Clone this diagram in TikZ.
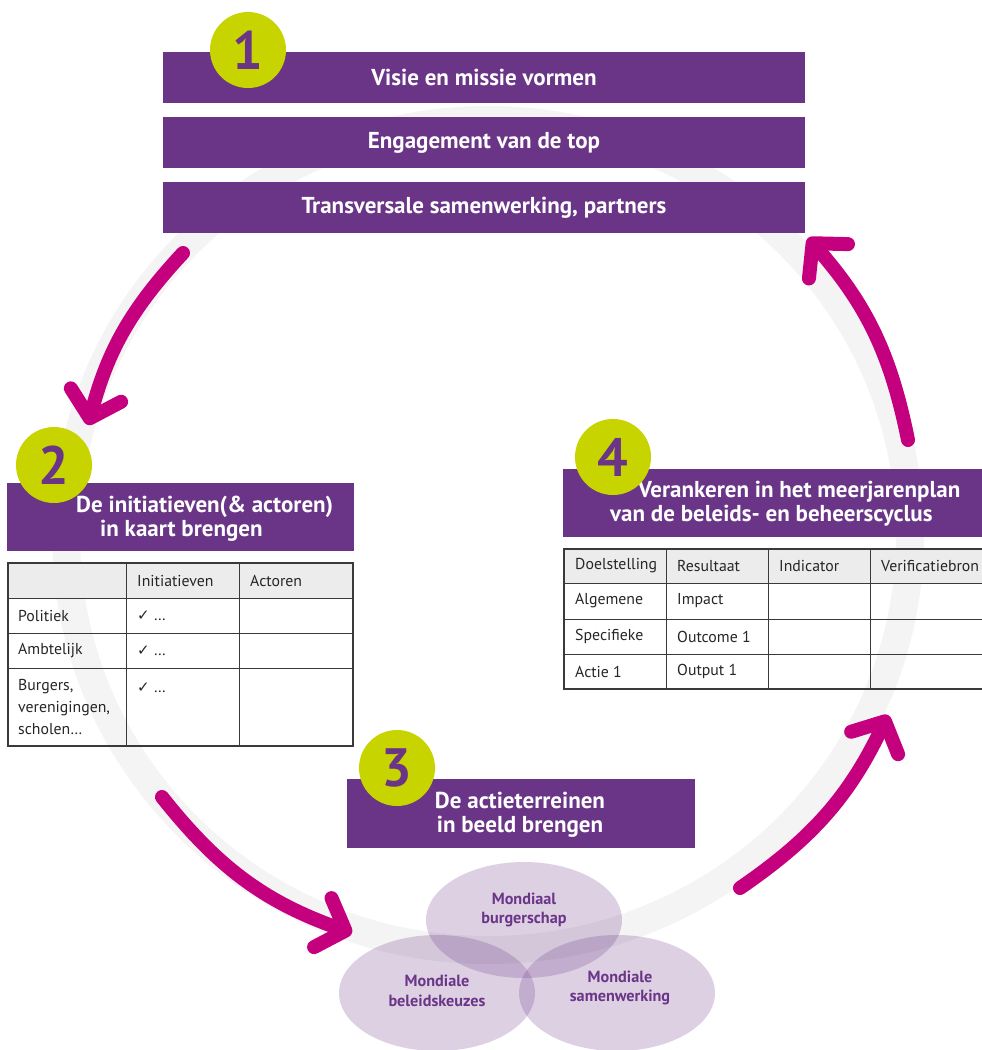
\documentclass[tikz,border=0pt]{standalone}
\usepackage{fontspec}
\setmainfont{PT Sans}
\newfontfamily\symfont{DejaVu Sans}
\usetikzlibrary{arrows.meta,shapes.geometric,positioning}
\definecolor{kaderpaars}{HTML}{6A3587}
\definecolor{limoen}{HTML}{C8D400}
\definecolor{pijlroze}{HTML}{C5007F}
\definecolor{ringgrijs}{HTML}{F4F4F4}
\definecolor{kopgrijs}{HTML}{EBECEB}
\definecolor{lijngrijs}{HTML}{3A3A3A}

\begin{document}
\begin{tikzpicture}[x=1pt,y=1pt,
	titelbalk/.style={fill=kaderpaars, inner sep=0pt, minimum width=642pt, minimum height=51pt,
		text=white, font=\bfseries\fontsize{23}{24}\selectfont},
	titeltekst/.style={text=white, inner sep=0pt, font=\bfseries\fontsize{23}{24}\selectfont},
	nummer/.style={circle, fill=limoen, minimum size=76pt, inner sep=0pt,
		text=kaderpaars, font=\bfseries\fontsize{54}{54}\selectfont},
	pijl/.style={draw=pijlroze, line width=14pt, line cap=round,
		-{Straight Barb[length=24pt,width=52pt,round]}},
	tabellijn/.style={draw=lijngrijs, line width=0.9pt},
	cel/.style={anchor=west, inner sep=0pt, text=black!85, font=\fontsize{15.8}{22}\selectfont},
	veld/.style={ellipse, fill=kaderpaars, fill opacity=0.23, minimum width=196pt, minimum height=116pt, inner sep=0pt},
	veldtekst/.style={align=center, text=kaderpaars, font=\bfseries\fontsize{16.2}{19.5}\selectfont}]

	\useasboundingbox (0,0) rectangle (982,-1050);

	% ring
	\draw[ringgrijs, line width=28pt] (488,-535) ellipse [x radius=422, y radius=415];

	% arrows
	\coordinate (p1s) at (183,-253);
	\coordinate (p1e) at (88,-425);
	\coordinate (p2s) at (162,-797);
	\coordinate (p2e) at (352,-933);
	\coordinate (p3s) at (740,-888);
	\coordinate (p3e) at (888,-715);
	\coordinate (p4s) at (908,-440);
	\coordinate (p4e) at (808,-238);
	\draw[pijl] (p1s) to[bend right=14] (p1e);
	\draw[pijl] (p2s) to[bend right=16] (p2e);
	\draw[pijl] (p3s) to[bend right=15] (p3e);
	\draw[pijl] (p4s) to[bend right=15] (p4e);

	% step 1
	\node[titelbalk] (visie) at (484,-77.5) {Visie en missie vormen};
	\node[titelbalk, below=13.5pt of visie] (engagement) {Engagement van de top};
	\node[titelbalk, below=13.5pt of engagement] (transversaal) {Transversale samenwerking, partners};
	\node[nummer] (n1) at (248,-50) {1};

	% step 2
	\node[titelbalk, minimum width=347pt, minimum height=68pt] (stap2) at (180.5,-517) {};
	\node[titeltekst, align=left, anchor=west] (stap2tekst) at (76,-519)
		{De initiatieven(\& actoren)\\\hspace*{24pt}in kaart brengen};
	\node[nummer] (n2) at (54,-465) {2};

	\fill[kopgrijs] (8,-563) rectangle (353,-598);
	\foreach \y in {598,633,668}
		\draw[tabellijn] (8,-\y) -- (353,-\y);
	\foreach \x in {126,239}
		\draw[tabellijn] (\x,-563) -- (\x,-746);
	\draw[tabellijn, line width=1.3pt] (8,-563) rectangle (353,-746);
	\node[cel] (t2kop2) at (137,-580.5) {Initiatieven};
	\node[cel] (t2kop3) at (250,-580.5) {Actoren};
	\node[cel] (t2rij1) at (18,-615.5) {Politiek};
	\node[cel] (t2rij2) at (18,-650.5) {Ambtelijk};
	\node[cel, anchor=north west, align=left] (t2rij3) at (18,-679) {Burgers,\\verenigingen,\\scholen…};
	\node[cel] (t2vink1) at (137,-615.5) {{\symfont\fontsize{15}{15}\selectfont ✓} …};
	\node[cel] (t2vink2) at (137,-650.5) {{\symfont\fontsize{15}{15}\selectfont ✓} …};
	\node[cel] (t2vink3) at (137,-688) {{\symfont\fontsize{15}{15}\selectfont ✓} …};

	% step 3
	\node[titelbalk, minimum width=348pt, minimum height=69pt] (stap3) at (521,-813.5) {};
	\node[titeltekst, align=center] (stap3tekst) at (520,-815) {De actieterreinen\\in beeld brengen};
	\node[nummer] (n3) at (397,-768) {3};

	\node[veld] (burgerschap) at (524,-920) {};
	\node[veld] (beleid) at (437,-993) {};
	\node[veld] (samenwerking) at (617,-993) {};
	\node[veldtekst] (burgerschaptekst) at (524,-910) {Mondiaal\\burgerschap};
	\node[veldtekst] (beleidtekst) at (437,-991) {Mondiale\\beleidskeuzes};
	\node[veldtekst] (samenwerkingtekst) at (620,-988) {Mondiale\\samenwerking};

	% step 4
	\node[titelbalk, minimum width=421pt, minimum height=68pt] (stap4) at (773.5,-503) {};
	\node[titeltekst, align=left, anchor=west] (stap4tekst) at (610,-504)
		{\hspace*{28pt}Verankeren in het meerjarenplan\\van de beleids- en beheerscyclus};
	\node[nummer] (n4) at (613,-457) {4};

	\fill[kopgrijs] (564,-549) rectangle (982,-583);
	\foreach \y in {583,619,654}
		\draw[tabellijn] (564,-\y) -- (982,-\y);
	\foreach \x in {666,768,870}
		\draw[tabellijn] (\x,-549) -- (\x,-689);
	\draw[tabellijn, line width=1.3pt] (982,-549) -- (564,-549) -- (564,-689) -- (982,-689);
	\node[cel] (t4kop1) at (575,-566) {Doelstelling};
	\node[cel] (t4kop2) at (677,-566) {Resultaat};
	\node[cel] (t4kop3) at (779,-566) {Indicator};
	\node[cel] (t4kop4) at (881,-566) {Verificatiebron};
	\node[cel] (t4rij1) at (575,-601) {Algemene};
	\node[cel] (t4rij2) at (575,-636.5) {Specifieke};
	\node[cel] (t4rij3) at (575,-671.5) {Actie 1};
	\node[cel] (t4res1) at (677,-601) {Impact};
	\node[cel] (t4res2) at (677,-636.5) {Outcome 1};
	\node[cel] (t4res3) at (677,-671.5) {Output 1};
\end{tikzpicture}
\end{document}
